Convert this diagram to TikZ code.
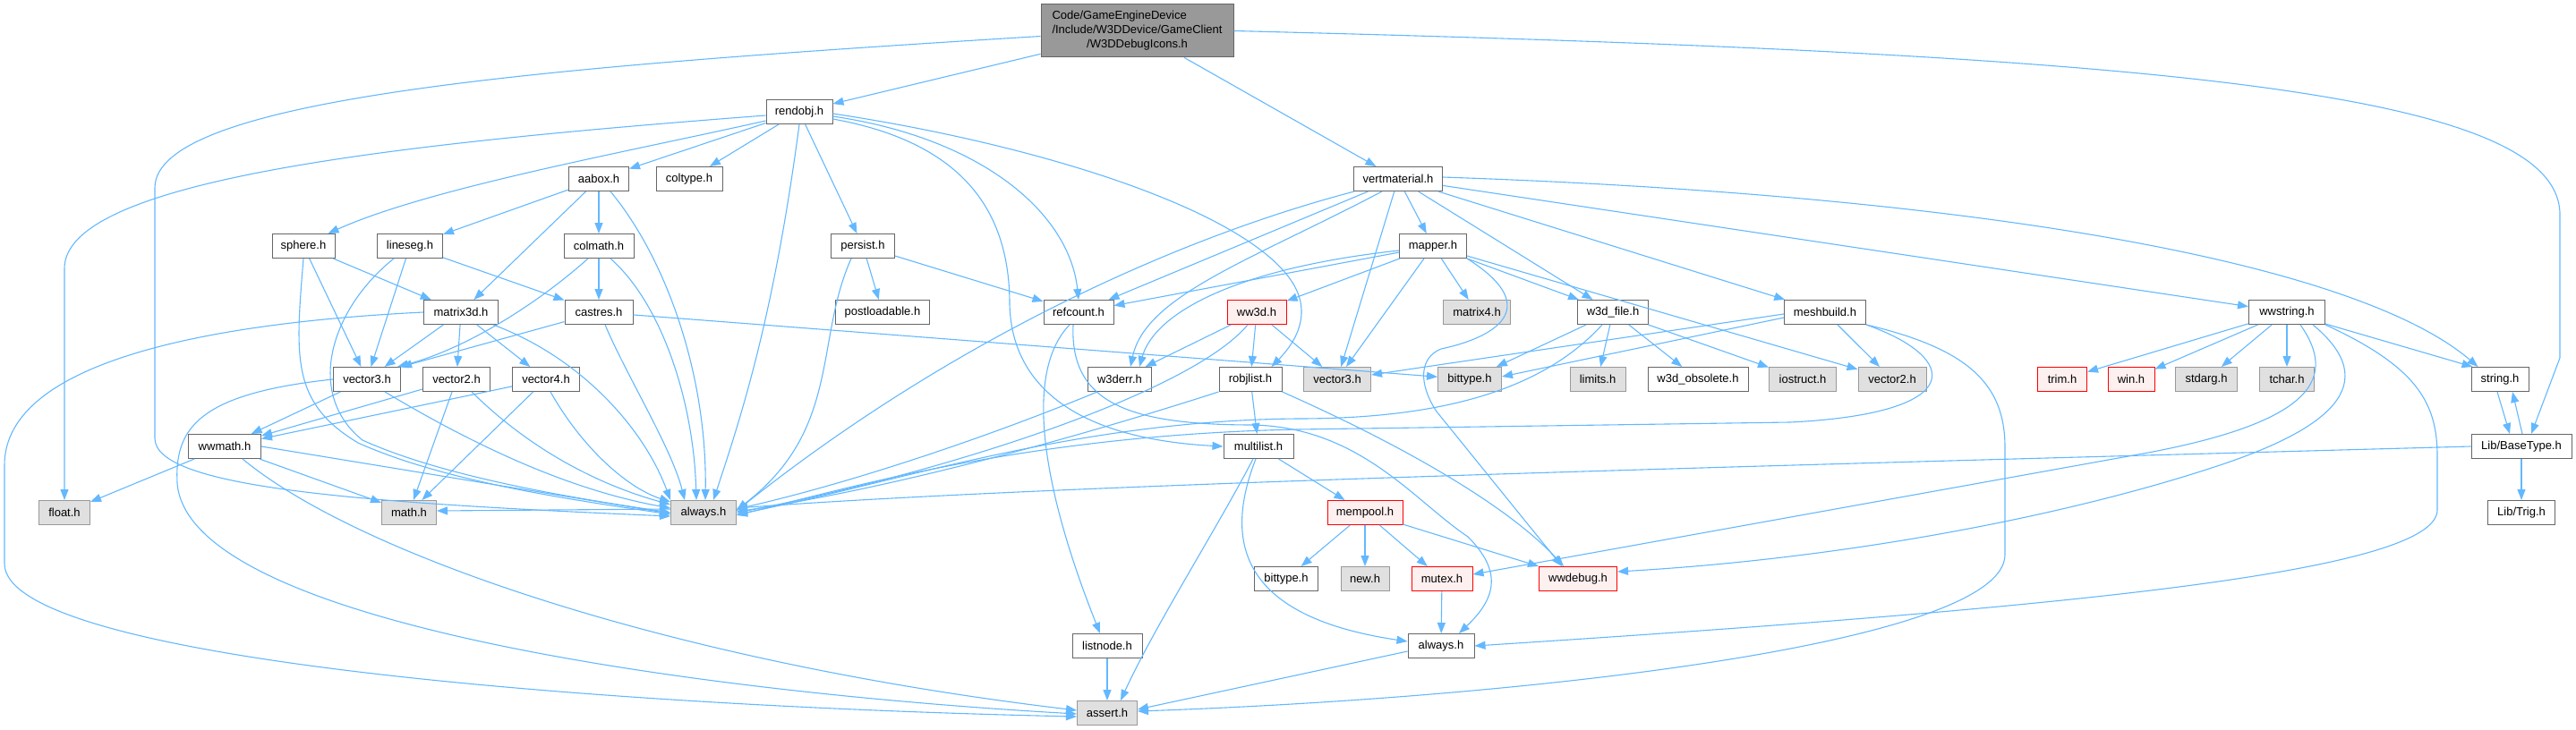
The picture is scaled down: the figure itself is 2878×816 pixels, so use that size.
\documentclass[tikz,border=0pt]{standalone}
\usepackage{fontspec}
\setmainfont{Liberation Sans}
\usetikzlibrary{arrows.meta}
\definecolor{edgec}{HTML}{63B8FF}
\definecolor{bdark}{HTML}{666666}
\definecolor{bgray}{HTML}{999999}
\definecolor{fgray}{HTML}{E0E0E0}
\definecolor{fred}{HTML}{FFF0F0}
\definecolor{bred}{HTML}{FF0000}
\definecolor{ftop}{HTML}{999999}
\begin{document}
\begin{tikzpicture}[x=1pt,y=-1pt,
  nb/.style={draw=bdark, fill=white, line width=1pt, minimum height=27pt, inner sep=0pt, font=\fontsize{13}{16.2}\selectfont},
  ng/.style={nb, draw=bgray, fill=fgray},
  nr/.style={nb, draw=bred, fill=fred},
  ntop/.style={nb, fill=ftop, minimum height=59pt},
  e/.style={draw=edgec, line width=1.1pt, -{Triangle[length=12pt,width=9pt]}}]
\useasboundingbox (0,0) rectangle (2878,816);
% nodes
\node[ntop, minimum width=215pt] (top) at (1270.5,34.5) {\begin{tabular}{@{}l@{}}Code/GameEngineDevice\\/Include/W3DDevice/GameClient\\\multicolumn{1}{@{}c@{}}{/W3DDebugIcons.h}\end{tabular}};
\node[nb, minimum width=74pt] (rendobj) at (893,125) {rendobj.h};
\node[nb, minimum width=67pt] (aabox) at (669,200) {aabox.h};
\node[nb, minimum width=74pt] (coltype) at (770,200) {coltype.h};
\node[nb, minimum width=99pt] (vertmaterial) at (1562,200) {vertmaterial.h};
\node[nb, minimum width=70pt] (sphere) at (339,275) {sphere.h};
\node[nb, minimum width=73pt] (lineseg) at (458,275) {lineseg.h};
\node[nb, minimum width=78pt] (colmath) at (669,275) {colmath.h};
\node[nb, minimum width=71pt] (persist) at (964,275) {persist.h};
\node[nb, minimum width=75pt] (mapper) at (1601,275) {mapper.h};
\node[nb, minimum width=83pt] (matrix3d) at (515,349) {matrix3d.h};
\node[nb, minimum width=76pt] (castres) at (669,349) {castres.h};
\node[nb, minimum width=105pt] (postloadable) at (986,349) {postloadable.h};
\node[nb, minimum width=78pt] (refcount) at (1205,349) {refcount.h};
\node[nr, minimum width=66pt] (ww3d) at (1404,349) {ww3d.h};
\node[ng, minimum width=75pt] (matrix4) at (1650,349) {matrix4.h};
\node[nb, minimum width=79pt] (w3dfile) at (1802,349) {w3d\_file.h};
\node[nb, minimum width=91pt] (meshbuild) at (2039,349) {meshbuild.h};
\node[nb, minimum width=85pt] (wwstring) at (2555,349) {wwstring.h};
\node[nb, minimum width=75pt] (vector3w) at (410,424) {vector3.h};
\node[nb, minimum width=75pt] (vector2w) at (510,424) {vector2.h};
\node[nb, minimum width=75pt] (vector4w) at (610,424) {vector4.h};
\node[nb, minimum width=71pt] (w3derr) at (1251,424) {w3derr.h};
\node[nb, minimum width=70pt] (robjlist) at (1397,424) {robjlist.h};
\node[ng, minimum width=75pt] (vector3g) at (1494,424) {vector3.h};
\node[ng, minimum width=71pt] (bittypeg) at (1642,424) {bittype.h};
\node[ng, minimum width=62pt] (limits) at (1785,424) {limits.h};
\node[nb, minimum width=112pt] (w3dobs) at (1897,424) {w3d\_obsolete.h};
\node[ng, minimum width=75pt] (iostruct) at (2014,424) {iostruct.h};
\node[ng, minimum width=76pt] (vector2g) at (2114,424) {vector2.h};
\node[nr, minimum width=55pt] (trim) at (2304,424) {trim.h};
\node[nr, minimum width=52pt] (win) at (2381,424) {win.h};
\node[ng, minimum width=69pt] (stdarg) at (2465,424) {stdarg.h};
\node[ng, minimum width=61pt] (tchar) at (2555,424) {tchar.h};
\node[nb, minimum width=64pt] (string) at (2793,424) {string.h};
\node[nb, minimum width=81pt] (wwmath) at (251,499) {wwmath.h};
\node[nb, minimum width=78pt] (multilist) at (1406,499) {multilist.h};
\node[nb, minimum width=112pt] (BaseType) at (2817,499) {Lib/BaseType.h};
\node[ng, minimum width=57pt] (float) at (72,573) {float.h};
\node[ng, minimum width=61pt] (math) at (457,573) {math.h};
\node[ng, minimum width=73pt] (alwaysg) at (786,573) {always.h};
\node[nr, minimum width=84pt] (mempool) at (1525,573) {mempool.h};
\node[nb, minimum width=75pt] (Trig) at (2817,573) {Lib/Trig.h};
\node[nb, minimum width=71pt] (bittypew) at (1437,647) {bittype.h};
\node[ng, minimum width=54pt] (new) at (1525,647) {new.h};
\node[nr, minimum width=68pt] (mutex) at (1611,647) {mutex.h};
\node[nr, minimum width=87pt] (wwdebug) at (1763,647) {wwdebug.h};
\node[nb, minimum width=78pt] (listnode) at (1237,722) {listnode.h};
\node[nb, minimum width=74pt] (alwaysw) at (1610,722) {always.h};
\node[ng, minimum width=67pt] (assert) at (1237,797) {assert.h};

% straight edges
\draw[e] (top) -- (rendobj);
\draw[e] (top) -- (vertmaterial);
\draw[e] (rendobj) -- (aabox);
\draw[e] (rendobj) -- (coltype);
\draw[e] (rendobj) -- (persist);
\draw[e] (aabox) -- (lineseg);
\draw[e] (aabox) -- (matrix3d);
\draw[e] (aabox) -- (colmath);
\draw[e] (sphere) -- (matrix3d);
\draw[e] (sphere) -- (vector3w);
\draw[e] (lineseg) -- (vector3w);
\draw[e] (lineseg) -- (castres);
\draw[e] (colmath) -- (castres);
\draw[e] (matrix3d) -- (vector3w);
\draw[e] (matrix3d) -- (vector2w);
\draw[e] (matrix3d) -- (vector4w);
\draw[e] (castres) -- (vector3w.north east);
\draw[e] (castres) -- (bittypeg);
\draw[e] (persist) -- (postloadable);
\draw[e] (persist) -- (refcount);
\draw[e] (vertmaterial) -- (refcount);
\draw[e] (vertmaterial) -- (vector3g);
\draw[e] (vertmaterial) -- (mapper);
\draw[e] (vertmaterial) -- (w3dfile);
\draw[e] (vertmaterial) -- (meshbuild);
\draw[e] (vertmaterial) -- (wwstring);
\draw[e] (mapper) -- (refcount);
\draw[e] (mapper) -- (ww3d);
\draw[e] (mapper) -- (vector3g);
\draw[e] (mapper) -- (matrix4);
\draw[e] (mapper) -- (w3dfile);
\draw[e] (mapper) -- (vector2g);
\draw[e] (ww3d) -- (w3derr);
\draw[e] (ww3d) -- (robjlist);
\draw[e] (ww3d) -- (vector3g);
\draw[e] (w3dfile) -- (bittypeg);
\draw[e] (w3dfile) -- (limits);
\draw[e] (w3dfile) -- (w3dobs);
\draw[e] (w3dfile) -- (iostruct);
\draw[e] ([yshift=-2pt]meshbuild.west) -- ([yshift=5pt]vector3g.east);
\draw[e] ([yshift=-6pt]meshbuild.west) -- ([yshift=3pt]bittypeg.east);
\draw[e] (meshbuild) -- (vector2g);
\draw[e] (wwstring) -- (trim);
\draw[e] (wwstring) -- (win);
\draw[e] (wwstring) -- (stdarg);
\draw[e] (wwstring) -- (tchar);
\draw[e] ([yshift=-13pt]wwstring.east) -- ([xshift=2pt]string.north west);
\draw[e] (vector3w) -- (wwmath);
\draw[e] (vector2w) -- (wwmath);
\draw[e] (vector2w) -- (math);
\draw[e] (vector4w) -- (wwmath);
\draw[e] (vector4w) -- (math);
\draw[e] (wwmath) -- (float);
\draw[e] (wwmath) -- (math);
\draw[e] (wwmath.east) -- ([yshift=-1pt]alwaysg.west);
\draw[e] (robjlist) -- (multilist);
\draw[e] (multilist) -- (mempool);
\draw[e] (mempool) -- (bittypew);
\draw[e] (mempool) -- (new);
\draw[e] (mempool) -- (mutex);
\draw[e] (mempool) -- (wwdebug.north west);
\draw[e] (mutex) -- (alwaysw);
\draw[e] ([yshift=-6pt]alwaysw.west) -- ([yshift=4pt]assert.east);
\draw[e] (listnode) -- (assert);
\draw[e] (BaseType) -- (Trig);
\draw[e] ([xshift=-3pt]string.south) -- ([xshift=-13pt]BaseType.north);
\draw[e] ([xshift=1pt]BaseType.north) -- ([xshift=14pt]string.south);
\draw[e] ([yshift=4pt]alwaysg.west) -- ([yshift=2pt]math.east);

% curved edges
\draw[e] ([yshift=-6pt]top.west) .. controls (600,75) and (173,110) .. (173,210) -- (173,490) .. controls (173,545) and (400,562) .. ([yshift=-4pt]alwaysg.west);
\draw[e] (top.east) .. controls (2400,60) and (2860,100) .. (2860,240) -- (2860,400) -- ([xshift=11pt]BaseType.north);
\draw[e] ([yshift=-4pt]rendobj.west) .. controls (450,160) and (72,200) .. (72,300) -- (float.north);
\draw[e] ([yshift=-10pt]rendobj.west) .. controls (700,170) and (480,210) .. ([xshift=-8pt]sphere.north east);
\draw[e] ([yshift=-5pt]rendobj.east) .. controls (1100,155) and (1195,240) .. (refcount.north);
\draw[e] ([yshift=-8pt]rendobj.east) .. controls (1080,160) and (1128,240) .. (1128,340) .. controls (1130,430) and (1200,490) .. (multilist.west);
\draw[e] ([yshift=-2pt]rendobj.east) .. controls (1150,160) and (1380,230) .. (1440,310) .. controls (1470,350) and (1445,385) .. ([xshift=-12pt]robjlist.north east);
\draw[e] (rendobj.south) .. controls (865,350) and (830,460) .. ([xshift=11pt]alwaysg.north);
\draw[e] ([xshift=13pt]aabox.south) .. controls (745,290) and (790,420) .. ([xshift=2pt]alwaysg.north);
\draw[e] (sphere.south) .. controls (330,400) and (325,450) .. (400,495) .. controls (500,540) and (650,560) .. ([yshift=-2pt]alwaysg.west);
\draw[e] ([xshift=-18pt]lineseg.south) .. controls (370,345) and (340,440) .. (405,492) .. controls (500,535) and (650,558) .. ([yshift=0pt]alwaysg.west);
\draw[e] ([xshift=-12pt]colmath.south) .. controls (600,340) and (520,390) .. ([xshift=-4pt]vector3w.north east);
\draw[e] ([xshift=13pt]colmath.south) .. controls (740,340) and (775,450) .. ([xshift=-8pt]alwaysg.north);
\draw[e] (matrix3d.west) .. controls (250,360) and (5,400) .. (5,520) -- (5,630) .. controls (5,740) and (700,790) .. ([yshift=-4pt]assert.west);
\draw[e] ([xshift=36pt]matrix3d.south) .. controls (650,400) and (720,480) .. (alwaysg.north west);
\draw[e] ([xshift=7pt]castres.south) .. controls (700,420) and (750,500) .. ([xshift=-21pt]alwaysg.north);
\draw[e] ([xshift=-13pt]persist.south) .. controls (910,380) and (940,480) .. ([yshift=3pt]alwaysg.east);
\draw[e] ([xshift=-49pt]vertmaterial.south) .. controls (1300,270) and (1050,390) .. ([yshift=2pt]alwaysg.east);
\draw[e] ([xshift=-18pt]vertmaterial.south) .. controls (1400,290) and (1280,330) .. ([xshift=12pt]w3derr.north);
\draw[e] ([yshift=2pt]vertmaterial.east) .. controls (2250,220) and (2640,300) .. ([xshift=8pt]string.north west);
\draw[e] ([yshift=-5pt]mapper.west) .. controls (1380,300) and (1290,350) .. ([xshift=22pt]w3derr.north);
\draw[e] (mapper.south east) .. controls (1720,340) and (1680,375) .. (1610,390) .. controls (1585,400) and (1585,430) .. (1605,460) -- ([xshift=-18pt]wwdebug.north);
\draw[e] ([xshift=-10pt]ww3d.south) .. controls (1330,440) and (1050,530) .. ([yshift=0pt]alwaysg.east);
\draw[e] ([xshift=-12pt]w3dfile.south) .. controls (1720,440) and (1600,468) .. (1450,468) .. controls (1200,470) and (1000,540) .. ([yshift=-2pt]alwaysg.east);
\draw[e] (meshbuild.south east) .. controls (2190,400) and (2200,462) .. (2000,472) -- (1450,480) .. controls (1150,486) and (950,545) .. ([yshift=-3pt]alwaysg.east);
\draw[e] (meshbuild.south east) .. controls (2200,390) and (2240,430) .. (2240,500) -- (2240,620) .. controls (2240,720) and (1700,780) .. ([yshift=2pt]assert.east);
\draw[e] ([xshift=15pt]wwstring.south) .. controls (2610,420) and (2590,470) .. (2400,506) -- ([yshift=5pt]mutex.east);
\draw[e] ([xshift=29pt]wwstring.south) .. controls (2665,430) and (2600,480) .. (2480,520) .. controls (2300,580) and (2050,625) .. ([yshift=8pt]wwdebug.east);
\draw[e] (wwstring.south east) .. controls (2700,410) and (2723,450) .. (2723,510) -- (2723,570) .. controls (2723,640) and (2300,680) .. ([yshift=0pt]alwaysw.east);
\draw[e] (BaseType.west) .. controls (2000,520) and (1200,540) .. ([yshift=5pt]alwaysg.east);
\draw[e] ([xshift=-10pt]refcount.south) .. controls (1140,420) and (1170,560) .. ([xshift=-8pt]listnode.north);
\draw[e] ([xshift=-6pt]refcount.south) .. controls (1195,450) and (1260,475) .. (1400,475) .. controls (1520,478) and (1580,560) .. (1640,600) .. controls (1680,640) and (1670,670) .. ([xshift=20pt]alwaysw.north);
\draw[e] ([xshift=-6pt]multilist.south) .. controls (1360,590) and (1290,700) .. ([xshift=15pt]assert.north);
\draw[e] ([xshift=-3pt]multilist.south) .. controls (1365,610) and (1390,690) .. ([yshift=5pt]alwaysw.west);
\draw[e] (robjlist.south east) .. controls (1550,490) and (1680,560) .. ([xshift=-16pt]wwdebug.north);
\draw[e] (robjlist.south west) .. controls (1200,490) and (1000,545) .. ([yshift=1pt]alwaysg.east);
\draw[e] ([xshift=-25pt]w3derr.south) .. controls (1100,490) and (950,540) .. ([yshift=4pt]alwaysg.east);
\draw[e] ([xshift=20pt]vector3w.south) .. controls (550,510) and (650,550) .. ([yshift=5pt]alwaysg.west);
\draw[e] ([xshift=17pt]vector2w.south) .. controls (600,510) and (680,545) .. ([yshift=9pt]alwaysg.west);
\draw[e] ([xshift=5pt]vector4w.south) .. controls (650,500) and (700,545) .. ([yshift=12pt]alwaysg.west);
\draw[e] (vector3w.west) .. controls (220,440) and (195,480) .. (198,540) .. controls (210,700) and (800,775) .. ([yshift=-1pt]assert.west);
\draw[e] ([xshift=20pt]wwmath.south) .. controls (400,620) and (750,740) .. ([yshift=3pt]assert.west);
\end{tikzpicture}
\end{document}
